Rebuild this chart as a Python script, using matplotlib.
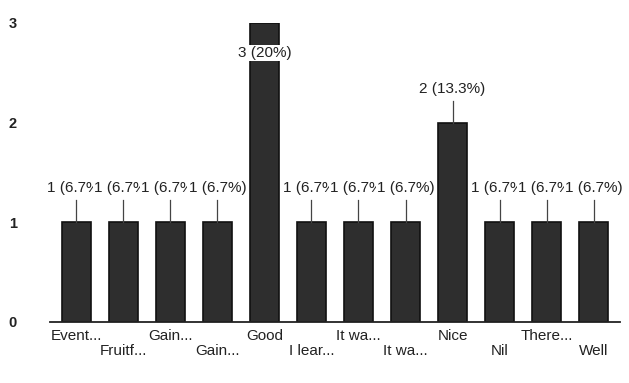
import matplotlib
matplotlib.use("Agg")
import matplotlib.pyplot as plt

categories = ["Event...", "Fruitf...", "Gain...", "Gain...", "Good", "I lear...",
              "It wa...", "It wa...", "Nice", "Nil", "There...", "Well"]
counts = [1, 1, 1, 1, 3, 1, 1, 1, 2, 1, 1, 1]
percent_labels = ["1 (6.7%)", "1 (6.7%)", "1 (6.7%)", "1 (6.7%)", "3 (20%)", "1 (6.7%)",
                  "1 (6.7%)", "1 (6.7%)", "2 (13.3%)", "1 (6.7%)", "1 (6.7%)", "1 (6.7%)"]
y_ticks = [0, 1, 2, 3]

plt.rcParams['font.family'] = ['Liberation Sans', 'DejaVu Sans']

fig = plt.figure(figsize=(6.29, 3.83), dpi=100)
ax = fig.add_axes([0.08, 0.16, 0.905, 0.78])

x = list(range(len(categories)))
ax.bar(x, counts, width=0.62, color="#2e2e2e", edgecolor="#111111", linewidth=1.2, zorder=2)

ymax = max(counts)
for i, (c, lab) in enumerate(zip(counts, percent_labels)):
    if c == ymax:
        ax.text(i, c - 0.3, lab, ha="center", va="center", fontsize=11,
                color="#222222", zorder=10 + i,
                bbox=dict(facecolor="white", edgecolor="none", pad=0.8))
    else:
        ax.plot([i, i], [c, c + 0.22], color="#444444", linewidth=0.9, zorder=3)
        ax.text(i, c + 0.34, lab, ha="center", va="center", fontsize=11,
                color="#222222", zorder=10 + i,
                bbox=dict(facecolor="white", edgecolor="none", pad=0.8))

ax.set_xlim(-0.55, len(categories) - 0.45)
ax.set_ylim(0, 3)
ax.set_yticks(y_ticks)
ax.set_yticklabels([str(t) for t in y_ticks], fontsize=10.5, fontweight="bold", color="#222222")
ax.set_xticks(x)
ax.set_xticklabels([c if i % 2 == 0 else "\n" + c for i, c in enumerate(categories)],
                   fontsize=11, color="#222222", linespacing=1.15)
ax.tick_params(axis="both", length=0)
ax.tick_params(axis="y", pad=24)
ax.tick_params(axis="x", pad=5)
for s in ["top", "right", "left"]:
    ax.spines[s].set_visible(False)
ax.spines["bottom"].set_color("#222222")
ax.spines["bottom"].set_linewidth(1.3)

fig.savefig("out.png", dpi=100, facecolor="white")
